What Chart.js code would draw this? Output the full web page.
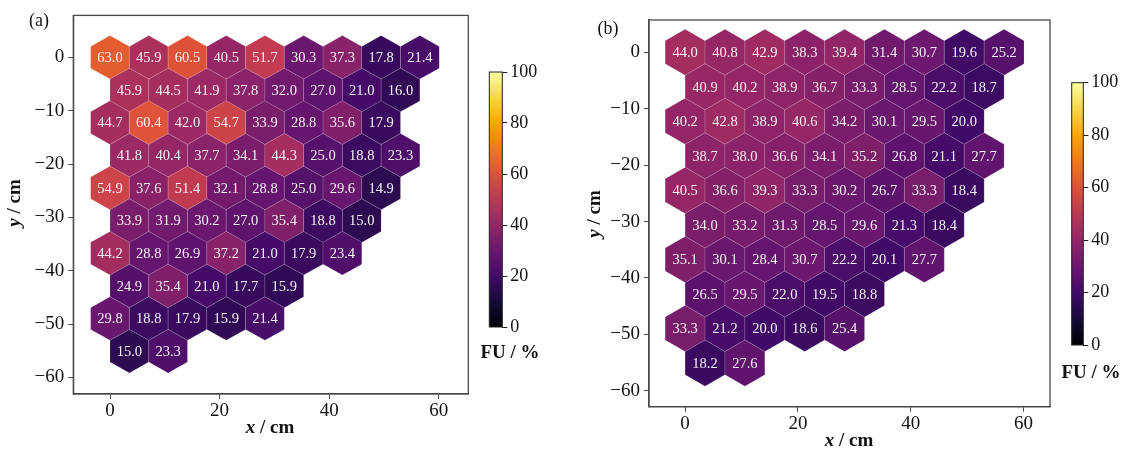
<!DOCTYPE html>
<html>
<head>
<meta charset="utf-8">
<script src="https://cdn.jsdelivr.net/npm/chart.js@4.4.1/dist/chart.umd.min.js"></script>
<style>
    body { margin: 0; background: #fff; width: 1129px; height: 452px; position: relative; overflow: hidden;
           font-family: "Liberation Serif", "Times New Roman", serif; color: #111; }
    .box { position: absolute; }
    .lbl { position: absolute; font-size: 18px; white-space: nowrap; transform: translate(-50%, -50%); }
    .ttl { font-weight: bold; font-size: 19px; }
    .rot { transform: translate(-50%, -50%) rotate(-90deg); }
</style>
</head>
<body>
<div class="box" style="left:0;top:0;width:480px;height:452px"><canvas id="hexA"></canvas></div>
<div class="box" style="left:470px;top:0;width:90px;height:452px"><canvas id="barA"></canvas></div>
<div class="box" style="left:580px;top:0;width:480px;height:452px"><canvas id="hexB"></canvas></div>
<div class="box" style="left:1052px;top:0;width:77px;height:452px"><canvas id="barB"></canvas></div>

<div class="lbl" style="left:39px;top:20px">(a)</div>
<div class="lbl ttl" style="left:270px;top:427px"><i>x</i> / cm</div>
<div class="lbl ttl rot" style="left:14px;top:203px"><i>y</i> / cm</div>
<div class="lbl ttl" style="left:510px;top:352px">FU / %</div>

<div class="lbl" style="left:608px;top:28px">(b)</div>
<div class="lbl ttl" style="left:849px;top:440px"><i>x</i> / cm</div>
<div class="lbl ttl rot" style="left:594px;top:214px"><i>y</i> / cm</div>
<div class="lbl ttl" style="left:1091px;top:372px">FU / %</div>

<script>
// FU (%) theo từng hàng lục giác, hàng 0 ở y = 0, hàng lẻ lệch nửa ô sang phải
const fuRowsA = [
    [63.0, 45.9, 60.5, 40.5, 51.7, 30.3, 37.3, 17.8, 21.4],
    [45.9, 44.5, 41.9, 37.8, 32.0, 27.0, 21.0, 16.0],
    [44.7, 60.4, 42.0, 54.7, 33.9, 28.8, 35.6, 17.9],
    [41.8, 40.4, 37.7, 34.1, 44.3, 25.0, 18.8, 23.3],
    [54.9, 37.6, 51.4, 32.1, 28.8, 25.0, 29.6, 14.9],
    [33.9, 31.9, 30.2, 27.0, 35.4, 18.8, 15.0],
    [44.2, 28.8, 26.9, 37.2, 21.0, 17.9, 23.4],
    [24.9, 35.4, 21.0, 17.7, 15.9],
    [29.8, 18.8, 17.9, 15.9, 21.4],
    [15.0, 23.3]
];
const fuRowsB = [
    [44.0, 40.8, 42.9, 38.3, 39.4, 31.4, 30.7, 19.6, 25.2],
    [40.9, 40.2, 38.9, 36.7, 33.3, 28.5, 22.2, 18.7],
    [40.2, 42.8, 38.9, 40.6, 34.2, 30.1, 29.5, 20.0],
    [38.7, 38.0, 36.6, 34.1, 35.2, 26.8, 21.1, 27.7],
    [40.5, 36.6, 39.3, 33.3, 30.2, 26.7, 33.3, 18.4],
    [34.0, 33.2, 31.3, 28.5, 29.6, 21.3, 18.4],
    [35.1, 30.1, 28.4, 30.7, 22.2, 20.1, 27.7],
    [26.5, 29.5, 22.0, 19.5, 18.8],
    [33.3, 21.2, 20.0, 18.6, 25.4],
    [18.2, 27.6]
];
const xTicks = [0, 20, 40, 60];
const yTicks = [0, -10, -20, -30, -40, -50, -60];
const cbTicks = [0, 20, 40, 60, 80, 100];

// Bước lưới lục giác (cm)
const COL_STEP = 7.07;
const ROW_STEP = 6.12;
const HEX_R = COL_STEP / Math.sqrt(3);

// Bảng màu inferno (matplotlib)
const infernoStops = ['#000004', '#160b39', '#420a68', '#6a176e', '#932667', '#bc3754',
                      '#dd513a', '#f37819', '#fca50a', '#f6d746', '#fcffa4'];

function hexToRgb(h) {
    return [parseInt(h.slice(1, 3), 16), parseInt(h.slice(3, 5), 16), parseInt(h.slice(5, 7), 16)];
}

function inferno(t) {
    t = Math.max(0, Math.min(1, t));
    const pos = t * (infernoStops.length - 1);
    const i = Math.min(Math.floor(pos), infernoStops.length - 2);
    const f = pos - i;
    const a = hexToRgb(infernoStops[i]), b = hexToRgb(infernoStops[i + 1]);
    const c = a.map((v, k) => Math.round(v + (b[k] - v) * f));
    return `rgb(${c[0]},${c[1]},${c[2]})`;
}

// Chuyển các hàng thành điểm (x, y, giá trị)
function buildCells(rows) {
    const cells = [];
    rows.forEach((row, r) => {
        row.forEach((v, c) => {
            cells.push({ x: c * COL_STEP + (r % 2 ? COL_STEP / 2 : 0), y: -r * ROW_STEP, v: v });
        });
    });
    return cells;
}

const minusFmt = v => String(v).replace('-', '\u2212');
const serif = '"Liberation Serif", "Times New Roman", serif';
const tickFont = { family: serif, size: 19 };
const barFont = { family: serif, size: 18 };

// Vẽ các ô lục giác và nhãn giá trị
const hexPlugin = {
    id: 'hexCells',
    beforeDatasetsDraw(chart) {
        const { ctx, chartArea, scales: { x, y } } = chart;
        ctx.save();
        ctx.beginPath();
        ctx.rect(chartArea.left, chartArea.top, chartArea.width, chartArea.height);
        ctx.clip();
        ctx.lineWidth = 0.8;
        ctx.strokeStyle = 'rgba(255,255,255,0.18)';
        ctx.font = '14.5px ' + serif;
        ctx.textAlign = 'center';
        ctx.textBaseline = 'middle';
        chart.data.datasets[0].data.forEach(p => {
            ctx.beginPath();
            for (let k = 0; k < 6; k++) {
                const ang = Math.PI / 180 * (60 * k - 90);
                const px = x.getPixelForValue(p.x + HEX_R * Math.cos(ang));
                const py = y.getPixelForValue(p.y + HEX_R * Math.sin(ang));
                if (k === 0) ctx.moveTo(px, py); else ctx.lineTo(px, py);
            }
            ctx.closePath();
            ctx.fillStyle = inferno(p.v / 100);
            ctx.fill();
            ctx.stroke();
            ctx.fillStyle = '#f4f0f4';
            ctx.fillText(p.v.toFixed(1), x.getPixelForValue(p.x), y.getPixelForValue(p.y) + 1);
        });
        ctx.restore();
    },
    afterDraw(chart) {
        const { ctx, chartArea } = chart;
        ctx.save();
        ctx.strokeStyle = '#4a4a4a';
        ctx.lineWidth = 1.3;
        ctx.strokeRect(chartArea.left, chartArea.top, chartArea.width, chartArea.height);
        ctx.restore();
    }
};

// Thanh màu
const barPlugin = {
    id: 'colorBar',
    beforeDatasetsDraw(chart) {
        const { ctx, chartArea, scales: { y } } = chart;
        const y0 = y.getPixelForValue(0), y1 = y.getPixelForValue(100);
        const grad = ctx.createLinearGradient(0, y0, 0, y1);
        infernoStops.forEach((c, i) => grad.addColorStop(i / (infernoStops.length - 1), c));
        ctx.save();
        ctx.fillStyle = grad;
        ctx.fillRect(chartArea.left, y1, chartArea.width, y0 - y1);
        ctx.strokeStyle = '#222';
        ctx.lineWidth = 1;
        ctx.strokeRect(chartArea.left, y1, chartArea.width, y0 - y1);
        ctx.restore();
    }
};

function makeHexChart(id, rows, lim) {
    return new Chart(document.getElementById(id), {
        type: 'scatter',
        data: { datasets: [{ data: buildCells(rows), pointRadius: 0 }] },
        options: {
            responsive: true,
            maintainAspectRatio: false,
            animation: false,
            layout: { padding: { top: lim.padTop, right: lim.padRight, left: 0, bottom: 0 } },
            plugins: { legend: { display: false }, tooltip: { enabled: false } },
            scales: {
                x: {
                    min: lim.xMin, max: lim.xMax,
                    afterBuildTicks: s => { s.ticks = xTicks.map(v => ({ value: v })); },
                    afterFit: s => { s.height = lim.xH; },
                    ticks: { font: tickFont, color: '#111', callback: minusFmt, padding: 1 },
                    grid: { drawOnChartArea: false, color: '#4a4a4a', tickLength: 5 },
                    border: { color: '#4a4a4a', width: 1.3 }
                },
                y: {
                    min: lim.yMin, max: lim.yMax,
                    afterBuildTicks: s => { s.ticks = yTicks.map(v => ({ value: v })); },
                    afterFit: s => { s.width = lim.yW; },
                    ticks: { font: tickFont, color: '#111', callback: minusFmt, padding: 4 },
                    grid: { drawOnChartArea: false, color: '#4a4a4a', tickLength: 5 },
                    border: { color: '#4a4a4a', width: 1.3 }
                }
            }
        },
        plugins: [hexPlugin]
    });
}

function makeBarChart(id, lim) {
    return new Chart(document.getElementById(id), {
        type: 'scatter',
        data: { datasets: [{ data: [], pointRadius: 0 }] },
        options: {
            responsive: true,
            maintainAspectRatio: false,
            animation: false,
            layout: { padding: { top: lim.top, bottom: lim.bottom, left: lim.left, right: 0 } },
            plugins: { legend: { display: false }, tooltip: { enabled: false } },
            scales: {
                x: { display: false, min: 0, max: 1 },
                y: {
                    position: 'right',
                    min: 0, max: 100,
                    afterBuildTicks: s => { s.ticks = cbTicks.map(v => ({ value: v })); },
                    afterFit: s => { s.width = lim.axisW; },
                    ticks: { font: barFont, color: '#111', padding: 3 },
                    grid: { drawOnChartArea: false, color: '#222', tickLength: 5 },
                    border: { display: false }
                }
            }
        },
        plugins: [barPlugin]
    });
}

makeHexChart('hexA', fuRowsA, { xMin: -6.7, xMax: 65.4, yMin: -63.1, yMax: 7.86,
                                padTop: 6, padRight: 11.7, xH: 58, yW: 73.3 });
makeHexChart('hexB', fuRowsB, { xMin: -6.4, xMax: 64.7, yMin: -62.8, yMax: 5.7,
                                padTop: 20, padRight: 10, xH: 45.3, yW: 69 });
makeBarChart('barA', { top: 72, bottom: 452 - 327, left: 19.3, axisW: 57.7 });
makeBarChart('barB', { top: 82.7, bottom: 452 - 345, left: 19.7, axisW: 77 - 19.7 - 11.6 });
</script>
</body>
</html>
